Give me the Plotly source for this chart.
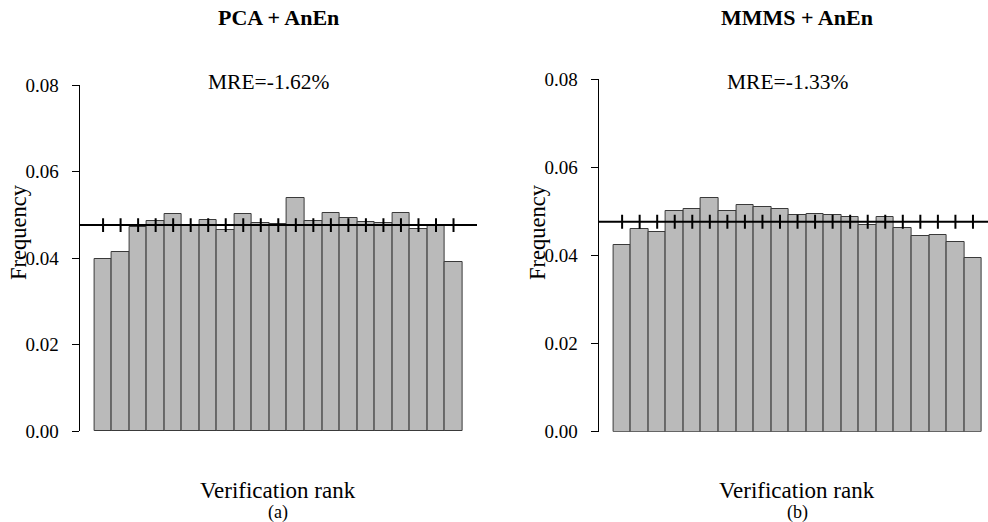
import plotly.graph_objects as go

# Rank histogram data: 21 verification ranks per method
ranks = list(range(1, 22))
pca_anen = [0.0398, 0.0414, 0.0472, 0.0485, 0.0501, 0.0477, 0.0488, 0.0464, 0.0501, 0.0482,
            0.0478, 0.0538, 0.0485, 0.0504, 0.0492, 0.0484, 0.0481, 0.0504, 0.0467, 0.0474,
            0.0391]
mmms_anen = [0.0424, 0.0460, 0.0453, 0.0500, 0.0505, 0.0530, 0.0501, 0.0514, 0.0509, 0.0505,
             0.0492, 0.0494, 0.0491, 0.0487, 0.0469, 0.0488, 0.0463, 0.0444, 0.0446, 0.0430,
             0.0395]
panel_titles = ["PCA + AnEn", "MMMS + AnEn"]
mre_labels = ["MRE=-1.62%", "MRE=-1.33%"]
panel_tags = ["(a)", "(b)"]
y_ticks = [0.00, 0.02, 0.04, 0.06, 0.08]
expected = 1.0 / len(ranks)  # uniform rank frequency
tick_halfheight = 0.0016

W, H = 988, 522
FONT = "'Liberation Serif', 'Times New Roman', Times, serif"
BAR_FILL = "#BABABA"
BAR_EDGE = "#3a3a3a"

fig = go.Figure()

for i, vals in enumerate([pca_anen, mmms_anen]):
    xa = "x" if i == 0 else "x2"
    ya = "y" if i == 0 else "y2"
    fig.add_trace(go.Bar(
        x=ranks, y=vals, width=1.0, xaxis=xa, yaxis=ya,
        marker=dict(color=BAR_FILL, line=dict(color=BAR_EDGE, width=1)),
        showlegend=False, hoverinfo="x+y",
    ))
    # reference line ticks at each rank
    fig.add_trace(go.Scatter(
        x=ranks, y=[expected] * len(ranks), xaxis=xa, yaxis=ya, mode="markers",
        marker=dict(size=1, color="rgba(0,0,0,0)"),
        error_y=dict(type="constant", value=tick_halfheight, width=0, thickness=2, color="black"),
        showlegend=False, hoverinfo="skip",
    ))
    fig.add_shape(type="line", xref=f"{xa} domain", yref=ya, x0=0, x1=1,
                  y0=expected, y1=expected, line=dict(color="black", width=2))

# panel geometry (pixels)
left_dom = [79.6 / W, 477.0 / W]
right_dom = [598.6 / W, 1.0]
bar_px_right = 17.543
right_range = [-0.34, -0.34 + (W - 598.6) / bar_px_right]

xcommon = dict(showticklabels=False, showgrid=False, zeroline=False, showline=False, ticks="")
ycommon = dict(range=[0, 0.08], tickvals=y_ticks, tickformat=".2f", showgrid=False,
               zeroline=False, showline=True, linecolor="black", linewidth=1,
               ticks="outside", ticklen=7, tickcolor="black", tickwidth=1,
               ticklabelstandoff=9, automargin=False,
               tickfont=dict(family=FONT, size=19, color="black"))

fig.update_layout(
    width=W, height=H,
    margin=dict(l=0, r=0, t=0, b=0, autoexpand=False),
    paper_bgcolor="white", plot_bgcolor="white",
    bargap=0,
    font=dict(family=FONT, color="black"),
    xaxis=dict(domain=left_dom, range=[-0.34, 22.34], anchor="y", **xcommon),
    xaxis2=dict(domain=right_dom, range=right_range, anchor="y2", **xcommon),
    yaxis=dict(domain=[1 - 431.0 / H, 1 - 85.0 / H], anchor="x", **ycommon),
    yaxis2=dict(domain=[1 - 431.7 / H, 1 - 79.0 / H], anchor="x2", **ycommon),
)

def px_ann(text, x, y, size, bold=False, angle=0):
    fig.add_annotation(
        text=f"<b>{text}</b>" if bold else text,
        x=x / W, y=1 - y / H, xref="paper", yref="paper",
        xanchor="center", yanchor="middle", showarrow=False, textangle=angle,
        font=dict(family=FONT, size=size, color="black"),
    )

centers = [(278, 269, 278, 18), (797, 788, 797, 537)]
for i, (tx, mx, lx, fx) in enumerate(centers):
    px_ann(panel_titles[i], tx, 17, 22, bold=True)
    px_ann(mre_labels[i], mx, 82, 21.5)
    px_ann("Verification rank", lx, 490, 23)
    px_ann(panel_tags[i], lx, 512, 18)
    px_ann("Frequency", fx, 232, 22.5, angle=-90)

fig.write_html("out.html")
